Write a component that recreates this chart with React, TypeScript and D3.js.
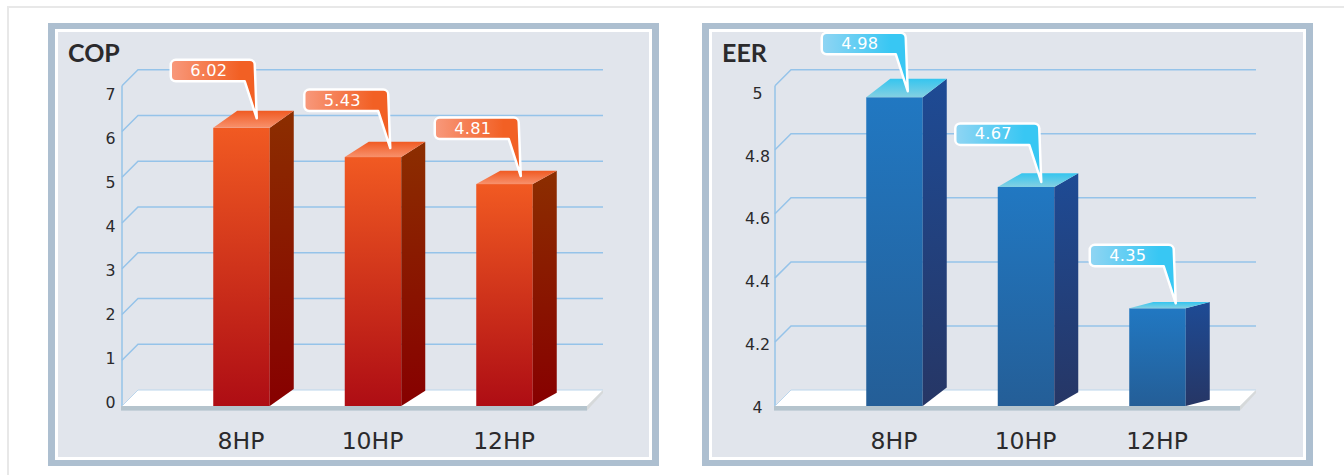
import React from "react";
import * as d3 from "d3";

// ---- data ----
const categories = ["8HP", "10HP", "12HP"];

const copLabels = ["6.02", "5.43", "4.81"];
const copBarValues = [6.08, 5.44, 4.85];
const copTicks = [0, 1, 2, 3, 4, 5, 6, 7];

const eerLabels = ["4.98", "4.67", "4.35"];
const eerBarValues = [4.964, 4.684, 4.305];
const eerTicks = [4, 4.2, 4.4, 4.6, 4.8, 5];

// ---- styling ----
const FONT = "'DejaVu Sans', Verdana, sans-serif";
const INK = "#2b2a2c";
const GRID = "#95c3e9";

const orange = {
  id: "o",
  front: ["#f15a22", "#ae0d14"],
  side: ["#8c2e00", "#870000"],
  top: ["#f05a22", "#f8916c"],
  tag: ["#f8997c", "#f26024"],
};
const blue = {
  id: "b",
  front: ["#2178c2", "#245e97"],
  side: ["#1e4b95", "#263665"],
  top: ["#35c5ef", "#84d0e2"],
  tag: ["#90d5f3", "#38c7f3"],
};

type Theme = typeof orange;

interface PanelProps {
  left: number;
  plotLeft: number;
  title: string;
  titleX: number;
  ticks: number[];
  labels: string[];
  barValues: number[];
  theme: Theme;
  rise: number[]; // perspective rise of each bar's depth
  tipDx: number[];
  tipGap: number[];
  tickMid: number;
  labelRange: [number, number];
}

const polygon = (pts: [number, number][]) => {
  const p = d3.path();
  pts.forEach(([x, y], i) => (i ? p.lineTo(x, y) : p.moveTo(x, y)));
  p.closePath();
  return p.toString();
};

const calloutPath = (x0: number, y0: number, x1: number, y1: number, tx: number, ty: number) => {
  const r = 5;
  const p = d3.path();
  p.moveTo(x0 + r, y0);
  p.lineTo(x1 - r, y0);
  p.arcTo(x1, y0, x1, y0 + r, r);
  p.lineTo(tx, ty);
  p.lineTo(x1 - 10, y1);
  p.lineTo(x0 + r, y1);
  p.arcTo(x0, y1, x0, y1 - r, r);
  p.lineTo(x0, y0 + r);
  p.arcTo(x0, y0, x0 + r, y0, r);
  p.closePath();
  return p.toString();
};

function Gradients({ t }: { t: Theme }) {
  const v = (name: string, c: string[], horizontal = false, mid = 1) => (
    <linearGradient id={t.id + name} x1="0" y1="0" x2={horizontal ? "1" : "0"} y2={horizontal ? "0" : "1"}>
      <stop offset="0" stopColor={c[0]} />
      <stop offset={mid} stopColor={c[1]} />
    </linearGradient>
  );
  return (
    <>
      {v("front", t.front)}
      {v("side", t.side)}
      {v("top", t.top)}
      {v("tag", t.tag, true, 0.8)}
    </>
  );
}

function Panel(props: PanelProps) {
  const { left, plotLeft, title, titleX, ticks, labels, barValues, theme, rise, tipDx, tipGap, tickMid, labelRange } = props;
  const fx = plotLeft + 74; // front axis
  const depth = 16;
  const endX = plotLeft + 555;
  const domain = d3.extent(ticks) as [number, number];
  const y = d3.scaleLinear().domain(domain).range([406, 85.7]);
  const yLabel = d3.scaleLinear().domain(domain).range(labelRange);
  const x = d3
    .scalePoint<string>()
    .domain(categories)
    .range([plotLeft + 193.5, plotLeft + 456.5]);
  const barW = 56.5;
  const barD = 24;
  const y0 = y(domain[0]);

  return (
    <g>
      <rect x={left + 3.5} y={26.5} width={604} height={436} fill="#e1e5ec" stroke="#adbfd0" strokeWidth={7} />
      <rect x={left + 8.5} y={30.5} width={594} height={428} fill="none" stroke="#fff" strokeWidth={3} />
      <text x={titleX} y={62} fontFamily="Lato, sans-serif" fontWeight={700} fontSize={25} fill={INK}>
        {title}
      </text>

      {/* grid */}
      <g fill="none" stroke={GRID} strokeWidth={1.5}>
        <line x1={fx} x2={fx} y1={y(domain[1])} y2={y0} />
        {ticks.map((t) =>
          t === domain[0] ? null : (
            <path key={t} d={`M${fx},${y(t)}L${fx + depth},${y(t) - depth}H${endX}`} />
          )
        )}
      </g>

      {/* floor */}
      <path
        d={polygon([
          [fx, y0],
          [fx + depth, y0 - depth],
          [endX, y0 - depth],
          [endX - depth, y0],
        ])}
        fill="#fff"
      />
      <path d={`M${fx},${y0}L${fx + depth},${y0 - depth}H${endX}`} fill="none" stroke="#bcd6ec" strokeWidth={1} />
      <rect x={fx - 1} y={y0} width={endX - depth - fx + 1} height={4.6} fill="#b5c4cd" />
      <path
        d={polygon([
          [endX - depth, y0],
          [endX, y0 - depth],
          [endX, y0 - depth + 3],
          [endX - depth, y0 + 4.6],
        ])}
        fill="#d6d9da"
      />

      {/* tick labels */}
      <g fontFamily={FONT} fontSize={15.8} fill={INK} textAnchor="middle">
        {ticks.map((t) => (
          <text key={t} x={tickMid} y={yLabel(t)}>
            {String(t)}
          </text>
        ))}
      </g>

      {/* bars */}
      {categories.map((c, i) => {
        const bx = (x(c) as number) - barW / 2;
        const top = y(barValues[i]);
        const r = rise[i];
        return (
          <g key={c}>
            <rect x={bx} y={top} width={barW} height={y0 - top} fill={`url(#${theme.id}front)`} />
            <path
              d={polygon([
                [bx + barW, top],
                [bx + barW + barD, top - r],
                [bx + barW + barD, y0 - r],
                [bx + barW, y0],
              ])}
              fill={`url(#${theme.id}side)`}
            />
            <path
              d={polygon([
                [bx, top],
                [bx + barD, top - r],
                [bx + barW + barD, top - r],
                [bx + barW, top],
              ])}
              fill={`url(#${theme.id}top)`}
            />
            <text
              x={bx + barW / 2 - 0.5}
              y={449}
              fontFamily={FONT}
              fontSize={23.5}
              fill={INK}
              textAnchor="middle"
            >
              {c}
            </text>
          </g>
        );
      })}

      {/* callouts */}
      {categories.map((c, i) => {
        const bx = (x(c) as number) - barW / 2;
        const tx = bx + tipDx[i];
        const ty = y(barValues[i]) - tipGap[i];
        const bx0 = tx - 86;
        const by0 = ty - 58.5;
        return (
          <g key={c}>
            <path
              d={calloutPath(bx0, by0, tx - 2, by0 + 21.5, tx, ty)}
              fill={`url(#${theme.id}tag)`}
              stroke="#fff"
              strokeWidth={2.5}
              strokeLinejoin="round"
            />
            <text
              x={bx0 + 38}
              y={by0 + 16}
              fontFamily={FONT}
              fontSize={16.2}
              letterSpacing={0.3}
              fill="#fff"
              textAnchor="middle"
            >
              {labels[i]}
            </text>
          </g>
        );
      })}
    </g>
  );
}

export default function App() {
  return (
    <svg
      width={1344}
      height={475}
      viewBox="0 0 1344 475"
      style={{ position: "absolute", left: 0, top: 0, display: "block" }}
    >
      <defs>
        <Gradients t={orange} />
        <Gradients t={blue} />
      </defs>
      <rect width={1344} height={475} fill="#fff" />
      <path d="M8,475V7H1344" fill="none" stroke="#e8e8e8" strokeWidth={2} />
      <Panel
        left={48}
        plotLeft={48}
        title="COP"
        titleX={68}
        ticks={copTicks}
        labels={copLabels}
        barValues={copBarValues}
        theme={orange}
        rise={[17, 15.3, 13.3]}
        tipDx={[43.5, 45.5, 44.5]}
        tipGap={[9.5, 9, 8]}
        tickMid={110.5}
        labelRange={[407.5, 100]}
      />
      <Panel
        left={702}
        plotLeft={701}
        title="EER"
        titleX={722}
        ticks={eerTicks}
        labels={eerLabels}
        barValues={eerBarValues}
        theme={blue}
        rise={[18.5, 13.7, 6.2]}
        tipDx={[41.5, 43.5, 46.5]}
        tipGap={[6, 5, 5]}
        tickMid={757.5}
        labelRange={[412.7, 99]}
      />
    </svg>
  );
}
